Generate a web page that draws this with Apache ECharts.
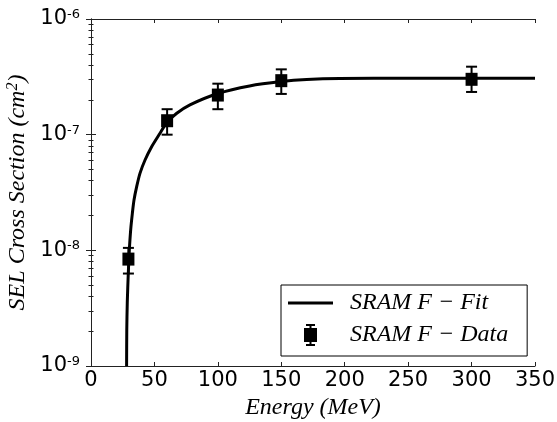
<!DOCTYPE html>
<html>
<head>
<meta charset="utf-8">
<script src="https://cdn.jsdelivr.net/npm/echarts@6/dist/echarts.min.js"></script>
<style>
  html, body { margin: 0; padding: 0; background: #fff; }
  #chart { width: 557px; height: 422px; }
</style>
</head>
<body>
<div id="chart"></div>
<script>
// measured points
const energy = [29.5, 60, 100, 150, 300];
const crossSection = [8.4e-9, 1.32e-7, 2.2e-7, 2.93e-7, 3.01e-7];
const errLow = [6.3e-9, 1.0e-7, 1.66e-7, 2.25e-7, 2.34e-7];
const errHigh = [1.05e-8, 1.66e-7, 2.76e-7, 3.67e-7, 3.87e-7];

// fit curve
const fitEnergy = [28.06, 28.2, 28.6, 29.4, 30.2, 30.7, 31.5, 32.6, 33.9, 36.0, 38.6, 42.6, 47.8, 54.4, 59.7, 67.6, 78, 100, 125, 150, 170, 196, 250, 300, 350];
const fitCross = [1e-9, 2.05e-9, 3.55e-9, 6.37e-9, 1.0e-8, 1.23e-8, 1.6e-8, 2.09e-8, 2.72e-8, 3.55e-8, 4.63e-8, 6.04e-8, 7.87e-8, 1.03e-7, 1.27e-7, 1.53e-7, 1.81e-7, 2.27e-7, 2.64e-7, 2.88e-7, 3.0e-7, 3.06e-7, 3.07e-7, 3.08e-7, 3.08e-7];

const xTicks = [0, 50, 100, 150, 200, 250, 300, 350];
const decadeLabels = { '-9': '{b|10}{s|-9}', '-8': '{b|10}{s|-8}', '-7': '{b|10}{s|-7}', '-6': '{b|10}{s|-6}' };

const chart = echarts.init(document.getElementById('chart'));

const frame = { show: true, lineStyle: { color: '#222', width: 1 } };
const serif = '"Liberation Serif", "DejaVu Serif", serif';
const majorTick = { show: true, inside: true, length: 5, lineStyle: { color: '#222' } };
const minorTick = { show: true, splitNumber: 9, length: 2.5, lineStyle: { color: '#222' } };

const option = {
  backgroundColor: '#fff',
  animation: false,
  grid: { left: 91, top: 19, right: 22, bottom: 56, outerBoundsMode: 'none', containLabel: false },
  legend: {
    left: 281,
    top: 285,
    orient: 'vertical',
    backgroundColor: '#fff',
    borderColor: '#000',
    borderWidth: 1,
    borderRadius: 0,
    padding: [6, 19, 9, 7],
    itemWidth: 45,
    itemHeight: 22,
    itemGap: 8,
    textStyle: { fontFamily: serif, fontStyle: 'italic', fontSize: 24, color: '#000', padding: [0, 0, 0, 12] },
    data: [
      { name: 'SRAM F − Fit', icon: 'path://M0,0H45V3H0Z' },
      { name: 'SRAM F − Data', icon: 'path://M2,0H11V2H7.5V4H13V18H7.5V20H11V22H2V20H5.5V18H0V4H5.5V2H2Z' }
    ]
  },
  xAxis: [
    {
      type: 'value', min: 0, max: 350, interval: 50, position: 'bottom',
      name: 'Energy (MeV)', nameLocation: 'middle', nameGap: 27,
      nameTextStyle: { fontFamily: serif, fontStyle: 'italic', fontSize: 24, color: '#000' },
      axisLine: frame,
      axisTick: { show: true, inside: true, length: 4, lineStyle: { color: '#222' } },
      axisLabel: { margin: 4, fontFamily: '"DejaVu Sans"', fontSize: 21, color: '#000',
        formatter: v => (xTicks.indexOf(v) >= 0 ? String(v) : '') },
      splitLine: { show: false }
    },
    {
      type: 'value', min: 0, max: 350, interval: 50, position: 'top',
      axisLine: frame,
      axisTick: { show: true, inside: true, length: 4, lineStyle: { color: '#222' } },
      axisLabel: { show: false },
      splitLine: { show: false }
    }
  ],
  yAxis: [
    {
      type: 'log', min: 1e-9, max: 1e-6, logBase: 10, position: 'left',
      name: '{i|SEL Cross Section (cm}{sup|2}{i|)}', nameLocation: 'middle', nameGap: 58,
      nameTextStyle: {
        rich: {
          i: { fontFamily: serif, fontStyle: 'italic', fontSize: 24, color: '#000' },
          sup: { fontFamily: serif, fontStyle: 'italic', fontSize: 16, color: '#000', padding: [0, 0, 10, 0] }
        }
      },
      axisLine: frame,
      axisTick: majorTick,
      minorTick: minorTick,
      axisLabel: {
        margin: 11,
        formatter: v => decadeLabels[String(Math.round(Math.log10(v)))] || '',
        rich: {
          b: { fontFamily: '"DejaVu Sans"', fontSize: 21, color: '#000' },
          s: { fontFamily: '"DejaVu Sans"', fontSize: 13, color: '#000', padding: [0, 0, 9, 0] }
        }
      },
      splitLine: { show: false },
      minorSplitLine: { show: false }
    },
    {
      type: 'log', min: 1e-9, max: 1e-6, logBase: 10, position: 'right',
      axisLine: frame,
      axisTick: majorTick,
      minorTick: minorTick,
      axisLabel: { show: false },
      splitLine: { show: false },
      minorSplitLine: { show: false }
    }
  ],
  series: [
    {
      name: 'SRAM F − Fit',
      type: 'line',
      xAxisIndex: 0, yAxisIndex: 0,
      data: fitEnergy.map((e, i) => [e, fitCross[i]]),
      showSymbol: false,
      smooth: 0.25,
      lineStyle: { color: '#000', width: 3 },
      itemStyle: { color: '#000' },
      z: 2
    },
    {
      name: 'errorbars',
      type: 'custom',
      xAxisIndex: 0, yAxisIndex: 0,
      data: energy.map((e, i) => [e, errLow[i], errHigh[i]]),
      encode: { x: 0, y: [1, 2] },
      renderItem: (params, api) => {
        const x = api.value(0);
        const top = api.coord([x, api.value(2)]);
        const bot = api.coord([x, api.value(1)]);
        const w = 5.5;
        const st = { stroke: '#000', lineWidth: 2 };
        return {
          type: 'group',
          children: [
            { type: 'line', shape: { x1: top[0], y1: top[1], x2: bot[0], y2: bot[1] }, style: st },
            { type: 'line', shape: { x1: top[0] - w, y1: top[1], x2: top[0] + w, y2: top[1] }, style: st },
            { type: 'line', shape: { x1: bot[0] - w, y1: bot[1], x2: bot[0] + w, y2: bot[1] }, style: st }
          ]
        };
      },
      z: 3
    },
    {
      name: 'SRAM F − Data',
      type: 'scatter',
      xAxisIndex: 0, yAxisIndex: 0,
      data: energy.map((e, i) => [e, crossSection[i]]),
      symbol: 'rect',
      symbolSize: [12, 13],
      itemStyle: { color: '#000', opacity: 1 },
      z: 4
    }
  ]
};

chart.setOption(option);
</script>
</body>
</html>
